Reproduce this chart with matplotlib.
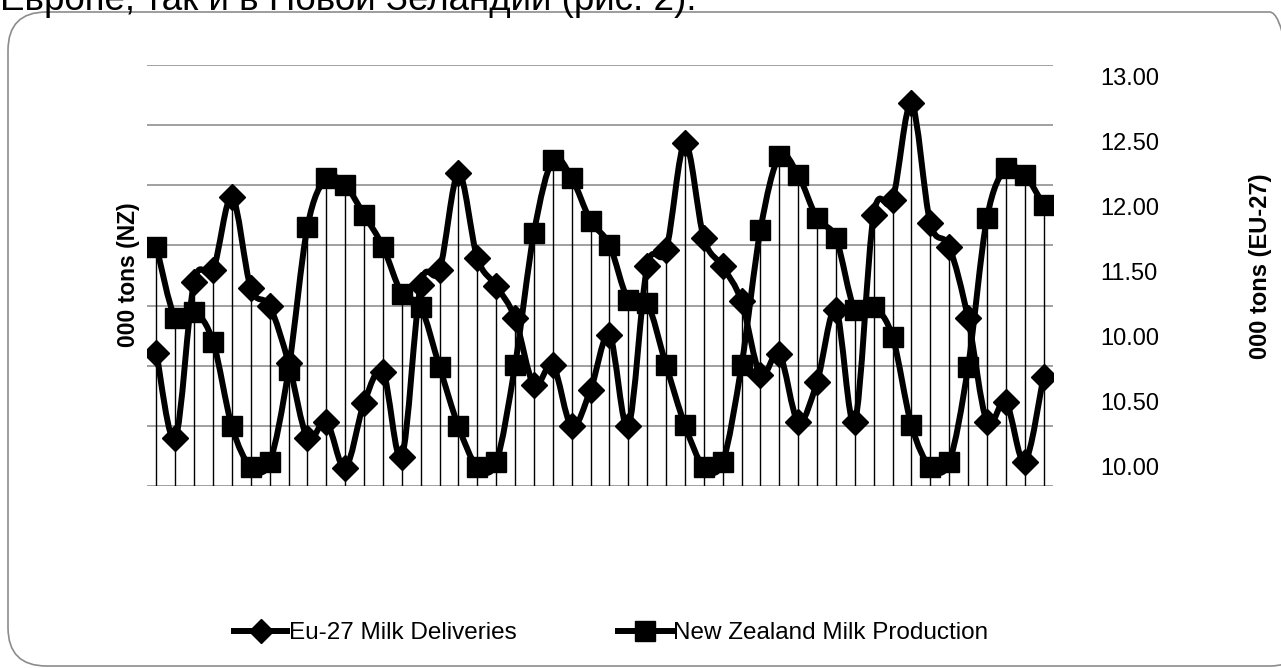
"""EU-27 milk deliveries vs New Zealand milk production (monthly, smoothed lines)."""
import numpy as np
import matplotlib
matplotlib.use('Agg')
import matplotlib.pyplot as plt
from matplotlib.path import Path
from matplotlib.patches import PathPatch, FancyBboxPatch
from matplotlib.lines import Line2D

plt.rcParams['font.family'] = ['Liberation Sans', 'DejaVu Sans']

# values, in gridline units (0 = bottom line, 7 = top line)
eu_deliveries = [2.21, 0.79, 3.40, 3.59, 4.81, 3.29, 2.99, 2.05, 0.80, 1.07, 0.30, 1.38,
                 1.90, 0.49, 3.34, 3.59, 5.20, 3.79, 3.33, 2.79, 1.68, 2.01, 0.99, 1.60,
                 2.51, 0.99, 3.65, 3.92, 5.70, 4.12, 3.65, 3.07, 1.85, 2.20, 1.07, 1.73,
                 2.93, 1.07, 4.51, 4.76, 6.36, 4.37, 3.98, 2.79, 1.07, 1.40, 0.40, 1.82]
nz_production = [3.98, 2.79, 2.90, 2.40, 0.99, 0.32, 0.40, 1.93, 4.31, 5.12, 5.00, 4.51,
                 3.98, 3.20, 2.98, 1.98, 0.99, 0.32, 0.40, 2.01, 4.21, 5.42, 5.12, 4.41,
                 4.01, 3.09, 3.04, 2.01, 1.01, 0.32, 0.40, 2.01, 4.26, 5.48, 5.17, 4.45,
                 4.12, 2.93, 2.98, 2.48, 1.01, 0.32, 0.40, 1.98, 4.45, 5.28, 5.17, 4.67]
months = np.arange(len(eu_deliveries))

# right axis tick labels exactly as printed in the source chart
right_labels = ['10.00', '10.50', '10.00', '11.50', '12.00', '12.50', '13.00']

W, H = 1281, 668
fig = plt.figure(figsize=(W / 100, H / 100), dpi=100)


def smooth_path(x, y):
    # Excel-style smoothed line: cubic Bezier through every point
    pts = np.column_stack([x, y]).astype(float)
    n = len(pts)
    verts = [pts[0]]
    codes = [Path.MOVETO]
    for i in range(n - 1):
        p0 = pts[i - 1] if i > 0 else pts[i]
        p1, p2 = pts[i], pts[i + 1]
        p3 = pts[i + 2] if i + 2 < n else pts[i + 1]
        c1 = p1 + (p2 - p0) / 6.0
        c2 = p2 - (p3 - p1) / 6.0
        verts += [c1, c2, p2]
        codes += [Path.CURVE4] * 3
    return Path(verts, codes)


# outer rounded frame
frame = FancyBboxPatch((8 / W, 2 / H), 1300 / W, (656 - 2) / H,
                       boxstyle='round,pad=0,rounding_size=0.03',
                       transform=fig.transFigure, fill=False,
                       edgecolor='#8c8c8c', lw=1.2, mutation_aspect=W / H)
fig.patches.append(frame)

fig.text(0 / W, 1 - 10 / H, 'Европе, так и в Новой Зеландии (рис. 2).',
         fontsize=26.5, ha='left', va='baseline')

ax = fig.add_axes([147 / W, 1 - 486 / H, 906 / W, 421 / H])
ax.set_xlim(-0.5, len(months) - 0.5)
ax.set_ylim(0, 7)
for s in ax.spines.values():
    s.set_visible(False)
ax.set_xticks([])
ax.set_yticks(range(8))
ax.set_yticklabels([])
ax.tick_params(axis='y', length=0)
ax.grid(axis='y', color='#a0a0a0', lw=1.4)
ax.set_axisbelow(True)

ax.vlines(months, 0, np.maximum(eu_deliveries, nz_production), color='black', lw=1.0, zorder=2)

for series, marker, ms in [(eu_deliveries, 'D', 13), (nz_production, 's', 14)]:
    ax.add_patch(PathPatch(smooth_path(months, series), fill=False, edgecolor='black',
                           lw=4.3, capstyle='round', joinstyle='round', zorder=3))
    ax.plot(months, series, linestyle='none', marker=marker, markersize=ms,
            color='black', zorder=4)

# secondary axis only carries the printed labels
ax2 = ax.twinx()
ax2.set_ylim(-0.297, 6.18)
ax2.set_yticks(range(len(right_labels)))
ax2.set_yticklabels(right_labels, fontsize=17)
ax2.tick_params(axis='y', length=0, pad=34)
for s in ax2.spines.values():
    s.set_visible(False)

fig.text(128 / W, 1 - 275 / H, '000 tons (NZ)', rotation=90, fontsize=16.5,
         fontweight='bold', ha='center', va='center')
fig.text(1261 / W, 1 - 266 / H, '000 tons (EU-27)', rotation=90, fontsize=17,
         fontweight='bold', ha='center', va='center')

handles = [Line2D([], [], color='black', lw=4.3, marker='D', markersize=12),
           Line2D([], [], color='black', lw=4.3, marker='s', markersize=14)]
fig.legend(handles, ['Eu-27 Milk Deliveries', 'New Zealand Milk Production'],
           loc='center', bbox_to_anchor=(611 / W, 1 - 633 / H), ncol=2,
           frameon=False, fontsize=17.5, handlelength=2.2, handletextpad=0.05,
           columnspacing=4.2)

fig.savefig('out.png', dpi=100)
